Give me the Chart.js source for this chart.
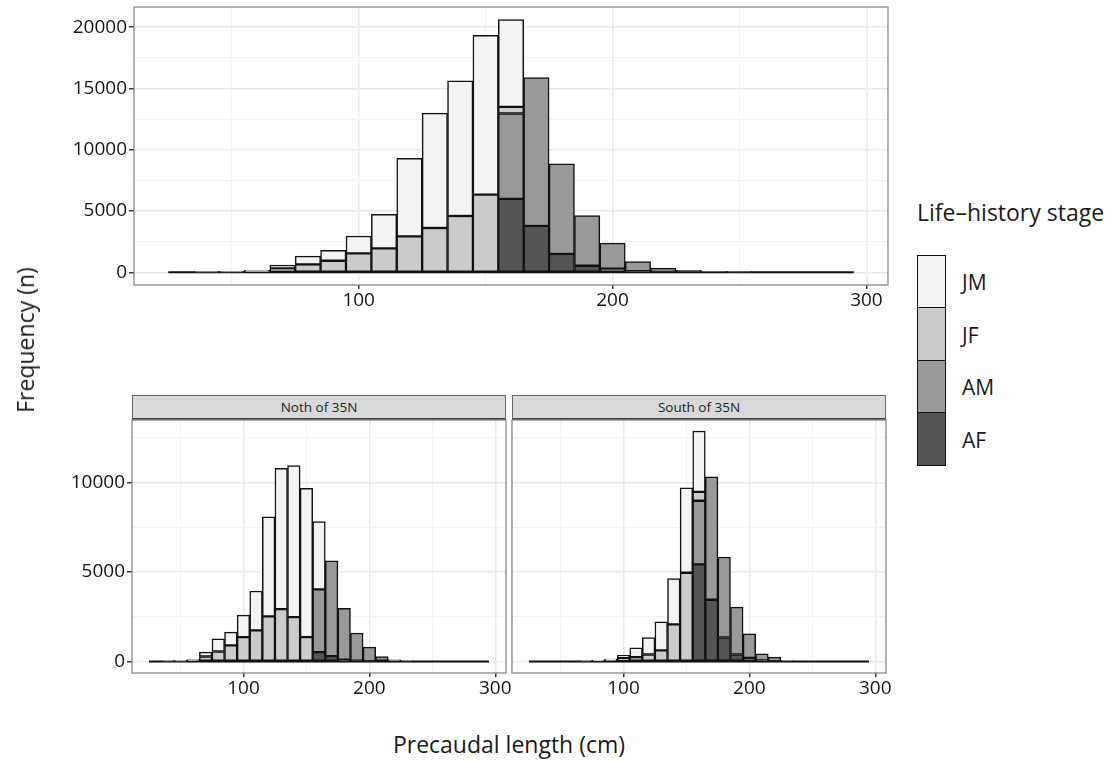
<!DOCTYPE html>
<html>
<head>
<meta charset="utf-8">
<script src="https://cdn.jsdelivr.net/npm/chart.js@4.4.0/dist/chart.umd.min.js"></script>
<style>
  body { margin: 0; background: #fff; font-family: "Open Sans", sans-serif; color: #1a1a1a; }
  #wrap { position: relative; width: 1113px; height: 762px; overflow: hidden; }
  .box { position: absolute; }
  .strip { position: absolute; top: 395px; height: 25px; background: #d9d9d9; border: 1px solid #666;
           border-bottom: 2px solid #444; box-sizing: border-box; font-size: 13.5px; line-height: 23px; text-align: center; color: #222; }
  #ytitle { position: absolute; left: 25px; top: 340px; transform: translate(-50%, -50%) rotate(-90deg); font-size: 23px; white-space: nowrap; }
  #xtitle { position: absolute; left: 509px; top: 744px; transform: translate(-50%, -50%); font-size: 23px; white-space: nowrap; }
  #legtitle { position: absolute; left: 917px; top: 197px; font-size: 23px; line-height: 31px; white-space: nowrap; }
  #legend { position: absolute; left: 917px; top: 256px; }
  #legend .row { display: flex; align-items: center; height: 52.5px; }
  #legend .key { width: 29px; height: 54px; border: 1.5px solid #111; box-sizing: border-box; margin-top: -1.5px; }
  #legend .lab { margin-left: 16px; font-size: 21px; }
</style>
</head>
<body>
<div id="wrap">
  <div class="box" style="left:0;top:0;width:900px;height:320px"><canvas id="topChart"></canvas></div>
  <div class="strip" style="left:132px;width:374px">Noth of 35N</div>
  <div class="strip" style="left:512px;width:374px">South of 35N</div>
  <div class="box" style="left:0;top:418px;width:520px;height:292px"><canvas id="northChart"></canvas></div>
  <div class="box" style="left:500px;top:418px;width:400px;height:292px"><canvas id="southChart"></canvas></div>
  <div id="ytitle">Frequency (n)</div>
  <div id="xtitle">Precaudal length (cm)</div>
  <div id="legtitle">Life&ndash;history stage</div>
  <div id="legend"></div>
</div>
<script>
// bin centres (cm), 10 cm wide
const bins = [30, 40, 50, 60, 70, 80, 90, 100, 110, 120, 130, 140, 150, 160, 170, 180, 190, 200, 210, 220, 230, 240, 250, 260, 270, 280, 290];

// stage order = stacking order, bottom first
const stages = ['AF', 'AM', 'JF', 'JM'];
const stageColors = ['#555555', '#999999', '#cbcbcb', '#f3f3f3'];

// all sharks (top panel)
const allAF = [0, 0, 0, 0, 0, 0, 0, 0, 0, 0, 0, 0, 0, 5990, 3780, 1500, 540, 300, 100, 40, 0, 0, 0, 0, 0, 0, 0];
const allAM = [0, 0, 0, 0, 0, 0, 0, 0, 0, 0, 0, 0, 0, 6970, 12120, 7350, 4090, 2090, 770, 310, 160, 40, 20, 0, 0, 0, 0];
const allJF = [0, 0, 30, 100, 330, 650, 950, 1550, 1960, 2940, 3620, 4600, 6340, 540, 0, 0, 0, 0, 0, 0, 0, 0, 0, 0, 0, 0, 0];
const allJM = [0, 20, 30, 60, 270, 680, 850, 1420, 2780, 6370, 9370, 11030, 12990, 7120, 0, 0, 0, 0, 0, 0, 0, 0, 0, 0, 0, 0, 0];

// north of 35N
const northAF = [0, 0, 0, 0, 0, 0, 0, 0, 0, 0, 0, 0, 0, 520, 300, 100, 50, 20, 0, 0, 0, 0, 0, 0, 0, 0, 0];
const northAM = [0, 0, 0, 0, 0, 0, 0, 0, 0, 0, 0, 0, 0, 3510, 5320, 2870, 1540, 780, 280, 90, 20, 0, 0, 0, 0, 0, 0];
const northJF = [0, 0, 20, 60, 280, 560, 900, 1360, 1740, 2520, 2930, 2480, 1360, 0, 0, 0, 0, 0, 0, 0, 0, 0, 0, 0, 0, 0, 0];
const northJM = [0, 20, 20, 50, 240, 710, 740, 1230, 2200, 5560, 7860, 8470, 8310, 3790, 0, 0, 0, 0, 0, 0, 0, 0, 0, 0, 0, 0, 0];

// south of 35N
const southAF = [0, 0, 0, 0, 0, 0, 0, 0, 0, 0, 0, 0, 0, 5430, 3450, 1340, 390, 200, 60, 20, 0, 0, 0, 0, 0, 0, 0];
const southAM = [0, 0, 0, 0, 0, 0, 0, 0, 0, 0, 0, 0, 0, 3550, 6870, 4500, 2650, 1350, 370, 220, 30, 0, 0, 0, 0, 0, 0];
const southJF = [0, 0, 0, 0, 0, 30, 70, 200, 240, 390, 620, 2070, 4960, 500, 0, 0, 0, 0, 0, 0, 0, 0, 0, 0, 0, 0, 0];
const southJM = [0, 0, 0, 0, 20, 30, 60, 140, 530, 940, 1600, 2560, 4740, 3400, 0, 0, 0, 0, 0, 0, 0, 0, 0, 0, 0, 0, 0];

// axes
const xTicks = [50, 100, 150, 200, 250, 300];      // major every 100, minor in between
const xRange = [11.5, 308.5];
const yTicksTop = [0, 2500, 5000, 7500, 10000, 12500, 15000, 17500, 20000];
const yRangeTop = [-1031, 21651];
const yTicksBottom = [0, 2500, 5000, 7500, 10000, 12500];
const yRangeBottom = [-643, 13493];

const tickFont = { family: '"Open Sans", sans-serif', size: 19 };

// ggplot-style panel border
const panelBox = {
  id: 'panelBox',
  afterDatasetsDraw(chart) {
    const { ctx, chartArea: a } = chart;
    ctx.save();
    ctx.strokeStyle = '#888';
    ctx.lineWidth = 1.3;
    ctx.strokeRect(a.left, a.top, a.right - a.left, a.bottom - a.top);
    ctx.restore();
  }
};

function makePanel(id, series, o) {
  const datasets = series.map((vals, i) => ({
    type: 'bar',
    label: stages[i],
    data: bins.map((b, j) => ({ x: b, y: vals[j] })),
    backgroundColor: stageColors[i],
    borderColor: '#111',
    borderWidth: 1.5,
    borderSkipped: false,
    grouped: false,
    barPercentage: 1,
    categoryPercentage: 1,
    order: 0
  }));
  // zero-count bins still show as a flat line in the histogram
  datasets.push({
    type: 'line',
    data: [{ x: bins[0] - 5, y: 0 }, { x: bins[bins.length - 1] + 5, y: 0 }],
    borderColor: '#111',
    borderWidth: 2,
    pointRadius: 0,
    order: 1
  });

  return new Chart(document.getElementById(id), {
    type: 'bar',
    data: { datasets },
    options: {
      responsive: true,
      maintainAspectRatio: false,
      animation: false,
      layout: { padding: o.padding },
      plugins: { legend: { display: false }, tooltip: { enabled: false } },
      scales: {
        x: {
          type: 'linear',
          offset: false,
          min: xRange[0], max: xRange[1],
          afterBuildTicks: (s) => { s.ticks = xTicks.map(v => ({ value: v })); },
          afterFit: (s) => { s.height = o.xHeight; s.paddingLeft = 0; s.paddingRight = 0; },
          border: { display: false },
          grid: {
            offset: false,
            color: (c) => c.tick && c.tick.value % 100 === 0 ? '#e8e8e8' : '#f2f2f2',
            lineWidth: (c) => c.tick && c.tick.value % 100 === 0 ? 1.5 : 1,
            tickColor: (c) => c.tick && c.tick.value % 100 === 0 ? '#333' : 'rgba(0,0,0,0)',
            tickLength: 4
          },
          ticks: {
            autoSkip: false, maxRotation: 0, padding: 0,
            color: '#151515', font: tickFont,
            callback: (v) => v % 100 === 0 ? String(v) : ''
          }
        },
        y: {
          stacked: true,
          min: o.yRange[0], max: o.yRange[1],
          afterBuildTicks: (s) => { s.ticks = o.yTicks.map(v => ({ value: v })); },
          afterFit: (s) => { s.width = o.yWidth; s.paddingTop = 0; s.paddingBottom = 0; },
          border: { display: false },
          grid: {
            color: (c) => c.tick && c.tick.value % 5000 === 0 ? '#e8e8e8' : '#f2f2f2',
            lineWidth: (c) => c.tick && c.tick.value % 5000 === 0 ? 1.5 : 1,
            tickColor: (c) => o.showY && c.tick && c.tick.value % 5000 === 0 ? '#333' : 'rgba(0,0,0,0)',
            tickLength: 5,
            drawTicks: o.showY
          },
          ticks: {
            display: o.showY,
            autoSkip: false, padding: 2,
            color: '#151515', font: tickFont,
            callback: (v) => v % 5000 === 0 ? String(v) : ''
          }
        }
      }
    },
    plugins: [panelBox]
  });
}

makePanel('topChart', [allAF, allAM, allJF, allJM], {
  padding: { top: 7, right: 12, left: 0, bottom: 0 },
  xHeight: 35, yWidth: 134, yRange: yRangeTop, yTicks: yTicksTop, showY: true
});
makePanel('northChart', [northAF, northAM, northJF, northJM], {
  padding: { top: 2, right: 14, left: 0, bottom: 0 },
  xHeight: 37, yWidth: 132, yRange: yRangeBottom, yTicks: yTicksBottom, showY: true
});
makePanel('southChart', [southAF, southAM, southJF, southJM], {
  padding: { top: 2, right: 14, left: 0, bottom: 0 },
  xHeight: 37, yWidth: 12, yRange: yRangeBottom, yTicks: yTicksBottom, showY: false
});

// legend keys: JM on top, AF at the bottom
document.getElementById('legend').innerHTML =
  stages.map((s, i) => ({ s, c: stageColors[i] })).reverse()
    .map(k => `<div class="row"><div class="key" style="background:${k.c}"></div><div class="lab">${k.s}</div></div>`).join('');
</script>
</body>
</html>
